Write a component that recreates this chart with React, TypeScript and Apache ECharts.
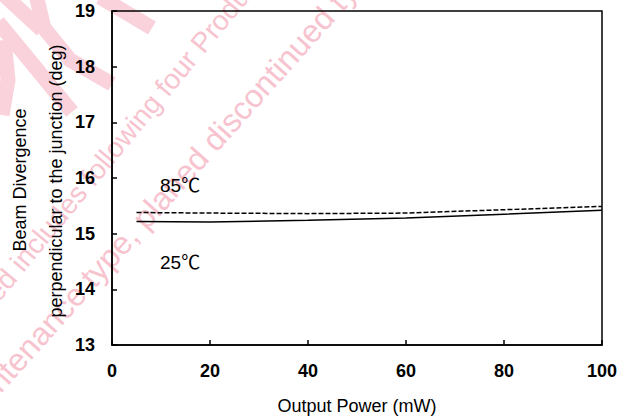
import React, { useEffect, useRef } from "react";
import * as echarts from "echarts";

const xPower = [5, 20, 40, 60, 80, 100];
const div85 = [15.38, 15.37, 15.36, 15.37, 15.43, 15.49];
const div25 = [15.22, 15.21, 15.24, 15.28, 15.35, 15.42];
const xAxisName = "Output Power (mW)";
const yNameLine1 = "Beam Divergence";
const yNameLine2 = "perpendicular to the junction (deg)";
const label85 = "85\u2103";
const label25 = "25\u2103";
const wm1 = "ed includes following four Products";
const wm2 = "maintenance type, planed discontinued type";

const FONT = "'Liberation Sans', Arial, 'Noto Sans CJK JP', sans-serif";
const WMFONT = "'Liberation Sans Narrow', 'Liberation Sans', sans-serif";
const PINK = "#f7c3ce";
const PINK2 = "#fad2db";

export default function App() {
  const ref = useRef<HTMLDivElement>(null);
  useEffect(() => {
    document.body.style.margin = "0";
    const chart = echarts.init(ref.current!, undefined, { renderer: "svg" });
    const axisLine = { show: true, lineStyle: { color: "#000", width: 1.5 } };
    const axisTick = { show: true, inside: true, length: 5, lineStyle: { color: "#000", width: 1.5 } };
    const tickLabel = { color: "#000", fontWeight: "bold" as const, fontSize: 18, fontFamily: FONT };
    const wmStroke = (pts: number[][]) => ({
      type: "polyline",
      z: -10,
      shape: { points: pts },
      style: { stroke: PINK2, lineWidth: 15, fill: null, lineCap: "butt" },
      silent: true,
    });
    chart.setOption({
      animation: false,
      backgroundColor: "#fff",
      grid: { left: 112, right: 25, top: 11, bottom: 71, show: true, borderColor: "#000", borderWidth: 1.5 },
      xAxis: {
        type: "value",
        min: 0,
        max: 100,
        interval: 20,
        axisLine,
        axisTick,
        splitLine: { show: false },
        axisLabel: { ...tickLabel, margin: 17 },
        name: xAxisName,
        nameLocation: "middle",
        nameGap: 52,
        nameTextStyle: { color: "#000", fontSize: 18, fontFamily: FONT },
      },
      yAxis: {
        type: "value",
        min: 13,
        max: 19,
        interval: 1,
        axisLine,
        axisTick,
        splitLine: { show: false },
        axisLabel: { ...tickLabel, margin: 17 },
      },
      series: [
        {
          name: label85,
          type: "line",
          data: xPower.map((x, i) => [x, div85[i]]),
          showSymbol: false,
          lineStyle: { color: "#000", width: 1.5, type: [5, 2] },
          z: 3,
        },
        {
          name: label25,
          type: "line",
          data: xPower.map((x, i) => [x, div25[i]]),
          showSymbol: false,
          lineStyle: { color: "#000", width: 1.5 },
          z: 3,
        },
      ],
      graphic: [
        wmStroke([[4, -5], [42, 30]]),
        wmStroke([[-2, 22], [72, 112]]),
        wmStroke([[36, -5], [44, 28], [70, 60], [112, 84]]),
        wmStroke([[100, -3], [152, 28]]),
        wmStroke([[4, 40], [8, 80], [2, 115]]),
        {
          type: "text",
          z: -9,
          silent: true,
          x: 2,
          y: 306,
          rotation: 0.88,
          style: { text: wm1, fill: PINK, font: `28px ${WMFONT}`, align: "left", verticalAlign: "bottom" },
        },
        {
          type: "text",
          z: -9,
          silent: true,
          x: -30,
          y: 436,
          rotation: 0.84,
          style: { text: wm2, fill: PINK, font: `32px ${WMFONT}`, align: "left", verticalAlign: "bottom" },
        },
        {
          type: "text",
          x: 20,
          y: 180,
          rotation: Math.PI / 2,
          style: { text: yNameLine1, fill: "#000", font: `18px ${FONT}`, align: "center", verticalAlign: "middle" },
        },
        {
          type: "text",
          x: 56,
          y: 181,
          rotation: Math.PI / 2,
          style: { text: yNameLine2, fill: "#000", font: `18px ${FONT}`, align: "center", verticalAlign: "middle" },
        },
        {
          type: "text",
          x: 160,
          y: 185,
          style: { text: label85, fill: "#000", font: `19px ${FONT}`, align: "left", verticalAlign: "middle" },
        },
        {
          type: "text",
          x: 160,
          y: 262,
          style: { text: label25, fill: "#000", font: `19px ${FONT}`, align: "left", verticalAlign: "middle" },
        },
      ],
    });
    return () => chart.dispose();
  }, []);
  return <div ref={ref} style={{ position: "fixed", left: 0, top: 0, width: 627, height: 420 }} />;
}
